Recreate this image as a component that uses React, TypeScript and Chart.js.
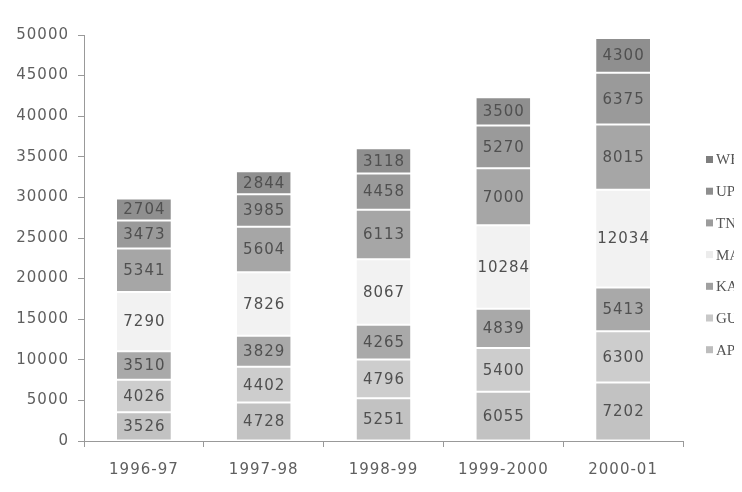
import React, { useEffect, useRef } from "react";
import { Chart, registerables } from "chart.js";

Chart.register(...registerables);

const categories = ["1996-97", "1997-98", "1998-99", "1999-2000", "2000-01"];
const seriesNames = ["AP", "GU", "KA", "MA", "TN", "UP", "WB"];
const AP = [3526, 4728, 5251, 6055, 7202];
const GU = [4026, 4402, 4796, 5400, 6300];
const KA = [3510, 3829, 4265, 4839, 5413];
const MA = [7290, 7826, 8067, 10284, 12034];
const TN = [5341, 5604, 6113, 7000, 8015];
const UP = [3473, 3985, 4458, 5270, 6375];
const WB = [2704, 2844, 3118, 3500, 4300];
const seriesValues = [AP, GU, KA, MA, TN, UP, WB];
const seriesColors = ["#c2c2c2", "#cdcdcd", "#a9a9a9", "#f2f2f2", "#a6a6a6", "#9a9a9a", "#8f8f8f"];
const legendColors = ["#bdbdbd", "#c8c8c8", "#a0a0a0", "#ececec", "#9c9c9c", "#8e8e8e", "#7e7e7e"];
const yMax = 50000;
const yStep = 5000;

const spacingPlugin = {
  id: "spacing",
  beforeUpdate(chart: any) {
    chart.ctx.letterSpacing = "1px";
  },
  beforeDraw(chart: any) {
    chart.ctx.letterSpacing = "1px";
  },
};

const valueLabelsPlugin = {
  id: "valueLabels",
  afterDatasetsDraw(chart: any) {
    const ctx = chart.ctx;
    ctx.save();
    ctx.letterSpacing = "1px";
    ctx.font = "15px 'DejaVu Sans'";
    ctx.fillStyle = "#505050";
    ctx.textAlign = "center";
    ctx.textBaseline = "middle";
    chart.data.datasets.forEach((ds: any, i: number) => {
      const meta = chart.getDatasetMeta(i);
      meta.data.forEach((el: any, j: number) => {
        const p = el.getProps(["x", "y", "base"], true);
        ctx.fillText(String(ds.data[j]), p.x + 0.5, (p.y + p.base) / 2 + 1);
      });
    });
    ctx.restore();
  },
};

const sideLegendPlugin = {
  id: "sideLegend",
  afterDraw(chart: any) {
    const ctx = chart.ctx;
    ctx.save();
    ctx.letterSpacing = "0px";
    ctx.font = "15px 'Liberation Serif'";
    ctx.textAlign = "left";
    ctx.textBaseline = "middle";
    const n = chart.data.datasets.length;
    for (let k = 0; k < n; k++) {
      const idx = n - 1 - k;
      const y = 151.5 + k * 31.7;
      ctx.fillStyle = legendColors[idx];
      ctx.fillRect(698, y - 3.5, 7, 7);
      ctx.fillStyle = "#555555";
      ctx.fillText(chart.data.datasets[idx].label, 708, y + 1);
    }
    ctx.restore();
  },
};

export default function App() {
  const canvasRef = useRef<HTMLCanvasElement | null>(null);

  useEffect(() => {
    if (!canvasRef.current) return;
    const chart = new Chart(canvasRef.current, {
      type: "bar",
      data: {
        labels: categories,
        datasets: seriesNames.map((name, i) => ({
          label: name,
          data: seriesValues[i],
          backgroundColor: seriesColors[i],
          borderColor: "#ffffff",
          borderWidth: { top: 1, bottom: 1, left: 0, right: 0 },
          borderSkipped: false,
          barPercentage: 0.45,
          categoryPercentage: 1,
        })),
      },
      options: {
        animation: false,
        responsive: true,
        maintainAspectRatio: false,
        layout: { padding: { top: 27, right: 59, bottom: 0, left: 0 } },
        plugins: {
          legend: { display: false },
          tooltip: { enabled: false },
        },
        scales: {
          x: {
            stacked: true,
            afterFit: (scale: any) => {
              scale.height = 43;
            },
            grid: {
              display: true,
              drawOnChartArea: false,
              drawTicks: true,
              tickLength: 6,
              color: "#999999",
            },
            border: { display: true, color: "#999999", width: 1 },
            ticks: {
              color: "#5f5f5f",
              font: { family: "'DejaVu Sans'", size: 15 },
              padding: 14,
              maxRotation: 0,
              autoSkip: false,
            },
          },
          y: {
            stacked: true,
            min: 0,
            max: yMax,
            afterFit: (scale: any) => {
              scale.width = 76;
            },
            grid: {
              display: true,
              drawOnChartArea: false,
              drawTicks: true,
              tickLength: 6,
              color: "#999999",
            },
            border: { display: true, color: "#999999", width: 1 },
            ticks: {
              stepSize: yStep,
              color: "#5f5f5f",
              font: { family: "'DejaVu Sans'", size: 15 },
              padding: 9,
              callback: (v: any) => String(v),
            },
          },
        },
      },
      plugins: [spacingPlugin, valueLabelsPlugin, sideLegendPlugin],
    });
    return () => chart.destroy();
  }, []);

  return (
    <div style={{ width: 734, height: 476, position: "relative" }}>
      <canvas ref={canvasRef} />
    </div>
  );
}
